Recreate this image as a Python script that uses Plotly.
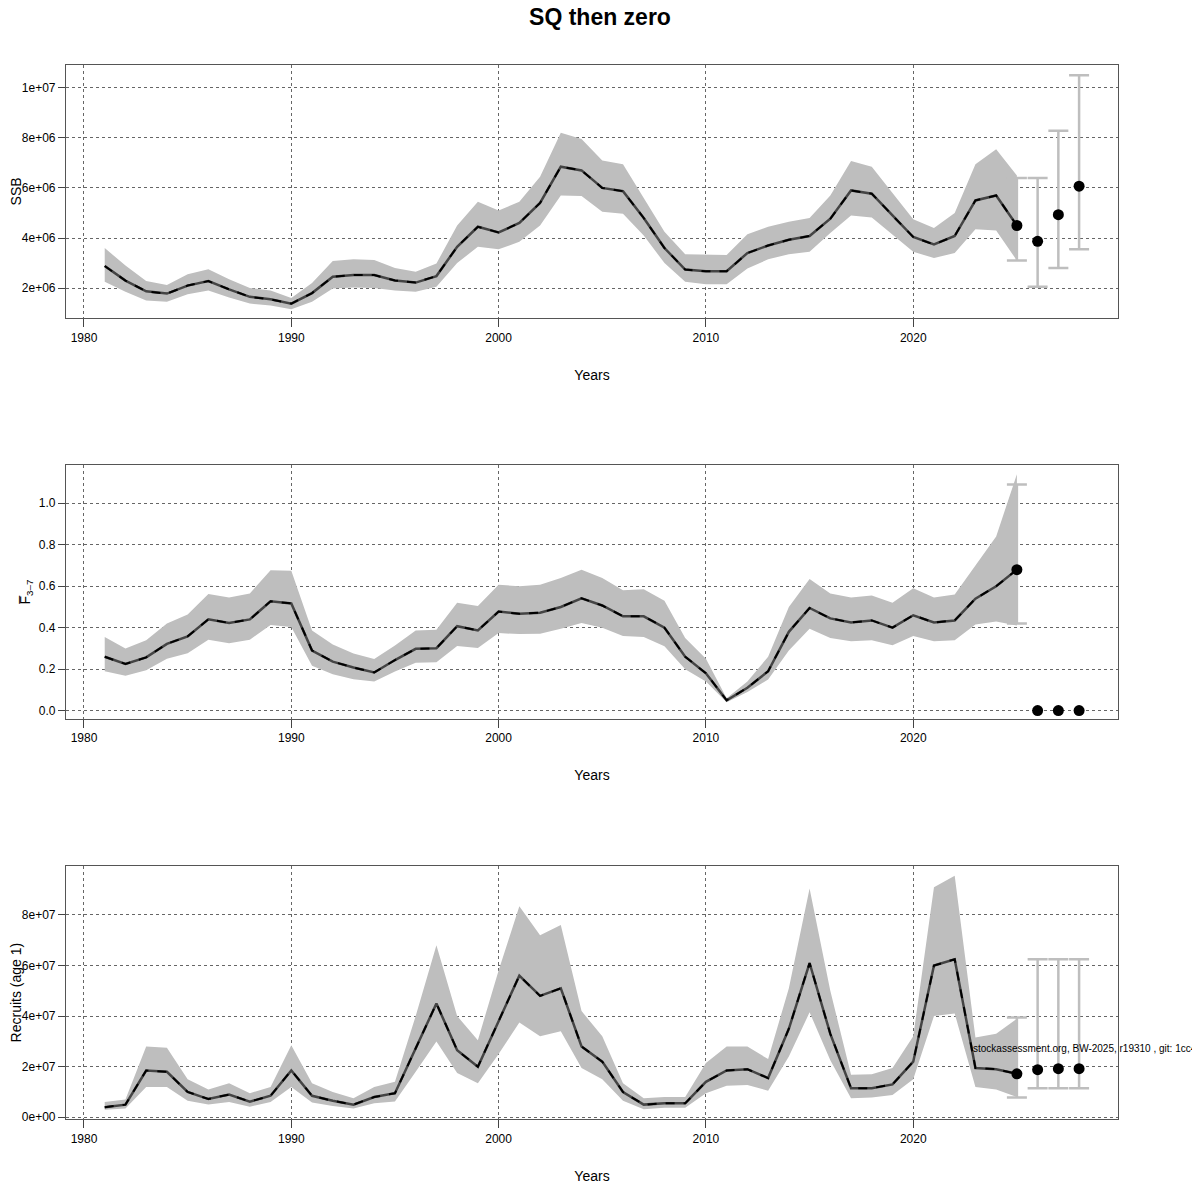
import plotly.graph_objects as go

years = list(range(1981, 2026))
fc_years = [2026, 2027, 2028]

ssb = [2.88,2.3,1.87,1.78,2.1,2.28,1.95,1.65,1.55,1.38,1.8,2.45,2.52,2.52,2.3,2.22,2.48,3.65,4.45,4.22,
       4.6,5.4,6.85,6.7,6.0,5.87,4.8,3.6,2.74,2.67,2.67,3.4,3.7,3.93,4.08,4.77,5.9,5.77,4.9,4.04,
       3.74,4.08,5.5,5.7,4.5]
ssb_hi = [3.6,2.9,2.28,2.12,2.55,2.75,2.35,2.0,1.9,1.6,2.2,3.08,3.15,3.12,2.8,2.65,2.98,4.5,5.45,5.1,
          5.45,6.45,8.2,7.95,7.1,6.95,5.6,4.25,3.35,3.33,3.32,4.15,4.45,4.65,4.8,5.7,7.08,6.85,5.8,4.75,
          4.4,5.0,6.95,7.55,6.5]
ssb_lo = [2.25,1.85,1.5,1.45,1.75,1.9,1.62,1.38,1.3,1.15,1.45,1.98,2.02,2.0,1.9,1.85,2.05,3.0,3.65,3.55,
          3.85,4.5,5.7,5.68,5.05,4.97,4.1,3.0,2.25,2.15,2.15,2.78,3.15,3.35,3.45,4.2,4.9,4.82,4.15,3.45,
          3.2,3.4,4.35,4.3,3.1]
ssb_fc = [3.87,4.93,6.07]
ssb_fc_hi = [6.4,8.28,10.5]
ssb_fc_lo = [2.05,2.8,3.55]
ssb_last_hi, ssb_last_lo = 6.4, 3.1

fbar = [0.26,0.225,0.257,0.322,0.358,0.44,0.423,0.44,0.527,0.517,0.29,0.236,0.208,0.184,0.244,0.298,0.301,0.407,0.387,0.478,
        0.467,0.472,0.50,0.542,0.507,0.455,0.455,0.40,0.26,0.18,0.05,0.11,0.19,0.38,0.495,0.445,0.425,0.435,0.40,0.46,
        0.425,0.435,0.54,0.60,0.68]
fbar_hi = [0.355,0.30,0.34,0.42,0.463,0.563,0.545,0.565,0.677,0.675,0.387,0.319,0.276,0.249,0.314,0.387,0.39,0.52,0.504,0.607,
           0.6,0.607,0.64,0.68,0.64,0.58,0.585,0.53,0.35,0.25,0.06,0.14,0.26,0.50,0.635,0.565,0.545,0.555,0.52,0.59,
           0.545,0.56,0.70,0.84,1.14]
fbar_lo = [0.19,0.168,0.195,0.25,0.277,0.342,0.325,0.342,0.413,0.403,0.216,0.176,0.151,0.14,0.189,0.231,0.233,0.312,0.302,0.374,
           0.369,0.371,0.395,0.423,0.40,0.36,0.355,0.31,0.2,0.14,0.04,0.09,0.15,0.29,0.395,0.35,0.335,0.34,0.315,0.36,
           0.335,0.34,0.415,0.43,0.41]
fbar_fc = [0.0,0.0,0.0]
fbar_last_hi, fbar_last_lo = 1.09, 0.42

rec = [0.4,0.5,1.85,1.8,1.0,0.72,0.9,0.62,0.85,1.85,0.85,0.65,0.5,0.8,0.95,2.7,4.5,2.65,2.0,3.8,
       5.6,4.8,5.1,2.8,2.2,1.0,0.5,0.55,0.55,1.4,1.85,1.9,1.55,3.5,6.1,3.3,1.15,1.15,1.3,2.2,
       6.0,6.25,1.95,1.9,1.72]
rec_hi = [0.6,0.7,2.8,2.75,1.5,1.1,1.35,0.95,1.2,2.85,1.35,1.0,0.75,1.2,1.4,4.0,6.8,4.0,3.05,5.8,
          8.35,7.2,7.6,4.2,3.2,1.35,0.75,0.8,0.8,2.15,2.8,2.8,2.3,5.1,9.05,5.0,1.68,1.7,1.95,3.2,
          9.1,9.55,3.15,3.3,3.9]
rec_lo = [0.3,0.35,1.2,1.2,0.65,0.5,0.6,0.42,0.6,1.2,0.58,0.45,0.35,0.55,0.62,1.8,3.0,1.75,1.35,2.5,
          3.75,3.2,3.4,1.95,1.5,0.65,0.32,0.38,0.38,0.95,1.25,1.28,1.05,2.4,4.15,2.25,0.75,0.78,0.88,1.5,
          4.0,4.1,1.2,1.1,0.8]
rec_fc = [1.88,1.92,1.92]
rec_fc_hi = [6.25,6.25,6.25]
rec_fc_lo = [1.15,1.15,1.15]
rec_last_hi, rec_last_lo = 3.95, 0.78

panels = [
    (ssb, ssb_hi, ssb_lo, ssb_fc, ssb_fc_hi, ssb_fc_lo, ssb_last_hi, ssb_last_lo, 1e6,
     "SSB", [2,4,6,8,10], ["2e+06","4e+06","6e+06","8e+06","1e+07"], [0.8, 10.92]),
    (fbar, fbar_hi, fbar_lo, fbar_fc, None, None, fbar_last_hi, fbar_last_lo, 1.0,
     "F\u0305<sub>3\u20137</sub>", [0,0.2,0.4,0.6,0.8,1.0], ["0.0","0.2","0.4","0.6","0.8","1.0"], [-0.039, 1.183]),
    (rec, rec_hi, rec_lo, rec_fc, rec_fc_hi, rec_fc_lo, rec_last_hi, rec_last_lo, 1e7,
     "Recruits (age 1)", [0,2,4,6,8], ["0e+00","2e+07","4e+07","6e+07","8e+07"], [-0.08, 9.94]),
]
OFF = 8
W = H = 1184


def py(ref):
    # reference pixel row -> paper fraction (empirical correction)
    spec = 65 + (ref - 65) * 1.0057
    return 1 - (spec - OFF) / H


tops = [65, 465, 865]
bots = [318, 718, 1118]
GRAY = "#bebebe"

fig = go.Figure()
layout = {}
for i, (v, hi, lo, fc, fhi, flo, lhi, llo, sc, title, tv, tt, yr) in enumerate(panels):
    n = "" if i == 0 else str(i + 1)
    xa, ya = "x" + n, "y" + n
    s = lambda a: [q * sc for q in a]
    fig.add_trace(go.Scatter(x=years + years[::-1], y=s(hi) + s(lo)[::-1], fill="toself",
                             fillcolor=GRAY, line=dict(width=0), mode="lines", xaxis=xa, yaxis=ya, showlegend=False))
    fig.add_trace(go.Scatter(x=years, y=s(v), mode="lines", line=dict(color="#444444", width=2.5),
                             xaxis=xa, yaxis=ya, showlegend=False))
    fig.add_trace(go.Scatter(x=years, y=s(v), mode="lines", line=dict(color="black", width=2, dash="dash"),
                             xaxis=xa, yaxis=ya, showlegend=False))
    ex = [years[-1]]; ey = [v[-1] * sc]
    eh = [(lhi - v[-1]) * sc]; el = [(v[-1] - llo) * sc]
    if fhi is not None:
        ex += fc_years; ey += s(fc)
        eh += [(a - b) * sc for a, b in zip(fhi, fc)]
        el += [(b - a) * sc for a, b in zip(flo, fc)]
    fig.add_trace(go.Scatter(x=ex, y=ey, mode="markers", marker=dict(color="rgba(0,0,0,0)", size=1),
                             error_y=dict(type="data", array=eh, arrayminus=el, color=GRAY, thickness=2.5, width=10),
                             xaxis=xa, yaxis=ya, showlegend=False))
    fig.add_trace(go.Scatter(x=[years[-1]] + fc_years, y=[v[-1] * sc] + s(fc), mode="markers",
                             marker=dict(color="black", size=11), xaxis=xa, yaxis=ya, showlegend=False,
                             cliponaxis=False))
    layout["xaxis" + n] = dict(domain=[(65 - OFF)/W, (1118 - OFF)/W], range=[1979.13, 2029.88], anchor=ya,
                               tickvals=[1980,1990,2000,2010,2020], ticks="outside", ticklen=8,
                               showgrid=True, gridcolor="#666666", griddash="dot", gridwidth=1,
                               showline=True, linecolor="#555555", mirror=True, zeroline=False,
                               title=dict(text="Years", standoff=26), tickfont=dict(size=12, color="black"))
    layout["yaxis" + n] = dict(domain=[py(bots[i]), py(tops[i])], range=[yr[0] * sc, yr[1] * sc], anchor=xa,
                               tickvals=[t * sc for t in tv], ticktext=tt, ticks="outside", ticklen=7,
                               showgrid=True, gridcolor="#666666", griddash="dot", gridwidth=1,
                               showline=True, linecolor="#555555", mirror=True, zeroline=False,
                               title=dict(text=title, standoff=4), tickfont=dict(size=12, color="black"))

fig.update_layout(**layout)
fig.update_layout(width=W, height=H, margin=dict(l=0, r=0, t=0, b=0),
                  plot_bgcolor="white", paper_bgcolor="white",
                  font=dict(family="Liberation Sans, Arial", size=12, color="black"),
                  title=dict(text="<b>SQ then zero</b>", x=(600 - OFF)/W, y=1 - (17 - OFF)/H, yanchor="middle",
                             font=dict(size=23)))
fig.add_annotation(text="stockassessment.org, BW-2025, r19310 , git: 1cc4e4d", xref="paper", yref="paper",
                   x=(971 - OFF)/W, y=py(1047), xanchor="left", yanchor="middle", showarrow=False,
                   font=dict(size=10))
fig.write_html("out.html")
